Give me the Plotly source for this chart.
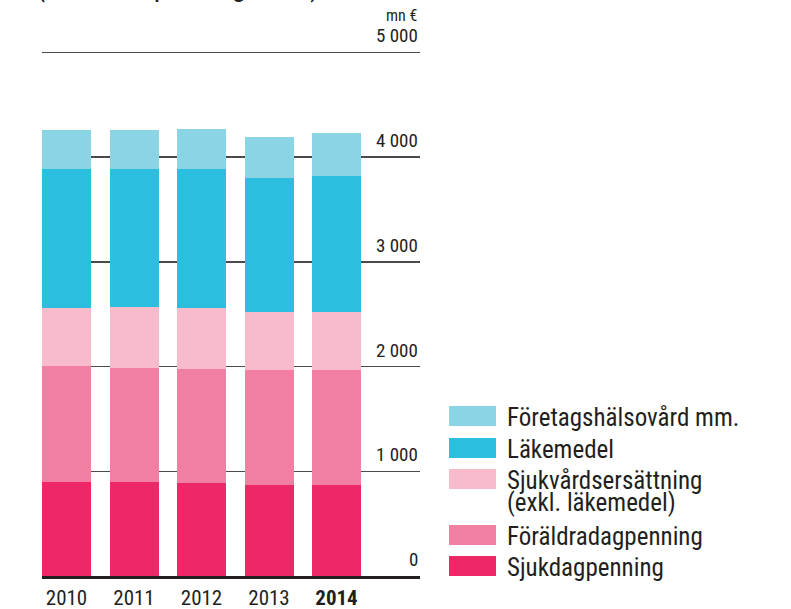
import plotly.graph_objects as go

# ---------------- data ----------------
years = ["2010", "2011", "2012", "2013", "2014"]
year_labels = ["2010", "2011", "2012", "2013", "<b>2014</b>"]

sjukdagpenning = [894, 894, 885, 866, 866]
foraldradagpenning = [1107, 1096, 1096, 1106, 1097]
sjukvardsersattning = [563, 583, 583, 554, 563]
lakemedel = [1326, 1317, 1326, 1278, 1297]
foretagshalsovard = [372, 372, 382, 392, 411]

series_names = [
    "Sjukdagpenning",
    "Föräldradagpenning",
    "Sjukvårdsersättning (exkl. läkemedel)",
    "Läkemedel",
    "Företagshälsovård mm.",
]
legend_lines = [
    ["Sjukdagpenning"],
    ["Föräldradagpenning"],
    ["Sjukvårdsersättning", "(exkl. läkemedel)"],
    ["Läkemedel"],
    ["Företagshälsovård mm."],
]
series_values = [sjukdagpenning, foraldradagpenning, sjukvardsersattning, lakemedel, foretagshalsovard]
series_colors = ["#EE2866", "#F07FA2", "#F8BBCC", "#2BBEDE", "#8AD4E4"]

ytick_vals = [0, 1000, 2000, 3000, 4000, 5000]
ytick_text = ["0", "1 000", "2 000", "3 000", "4 000", "5 000"]

title_text = "(2014 års penningvärde)"
unit_text = "mn €"

# ---------------- layout helpers ----------------
W, H = 791, 609
Y0_PX, Y5000_PX = 576, 52.5  # page pixels of value 0 and 5000
YMAX = 5100
K = (Y0_PX - Y5000_PX) / 5000.0
L, R, B = 42, 420, Y0_PX
T = Y0_PX - YMAX * K
FONT = "Liberation Sans Narrow, Arial Narrow, Roboto Condensed, DejaVu Sans Condensed, sans-serif"
TXT = "#231F20"


def px(x):
    return (x - L) / (R - L)


def py(y):
    return (B - y) / (B - T)


fig = go.Figure()
xpos = list(range(len(years)))
for name, vals, col in zip(series_names, series_values, series_colors):
    fig.add_trace(go.Bar(
        x=xpos, y=vals, name=name, marker=dict(color=col, line=dict(width=0)),
        width=0.726, showlegend=False, hoverinfo="skip",
    ))

annotations = []
for v, t in zip(ytick_vals, ytick_text):
    annotations.append(dict(
        x=1, xref="paper", y=v, yref="y", text=t, showarrow=False,
        xanchor="right", yanchor="bottom", yshift=3,
        font=dict(family=FONT, size=19, color=TXT),
    ))
annotations.append(dict(
    x=px(419), xref="paper", y=py(27), yref="paper", text=unit_text, showarrow=False,
    xanchor="right", yanchor="bottom", font=dict(family=FONT, size=16, color=TXT),
))
annotations.append(dict(
    x=px(34), xref="paper", y=py(5), yref="paper", text=title_text, showarrow=False,
    xanchor="left", yanchor="bottom", font=dict(family=FONT, size=29.5, color=TXT),
))

shapes = []
legend_rows = [(4, 416), (3, 448), (2, 479), (1, 535), (0, 566)]
for idx, cy in legend_rows:
    shapes.append(dict(
        type="rect", xref="paper", yref="paper",
        x0=px(449), x1=px(496), y0=py(cy + 10), y1=py(cy - 10),
        fillcolor=series_colors[idx], line=dict(width=0),
    ))
    for k, line in enumerate(legend_lines[idx]):
        annotations.append(dict(
            x=px(505), xref="paper", y=py(cy + 2 + 22 * k), yref="paper", text=line,
            showarrow=False, xanchor="left", yanchor="middle",
            font=dict(family=FONT, size=25, color=TXT),
        ))

fig.update_layout(
    width=W, height=H,
    margin=dict(l=L, r=W - R, t=T, b=H - B, pad=0),
    paper_bgcolor="white", plot_bgcolor="white",
    barmode="stack", bargap=0,
    showlegend=False,
    xaxis=dict(
        range=[-0.363, 5.237], tickvals=xpos, ticktext=year_labels,
        showgrid=False, zeroline=False, showline=True, linecolor="#231F20", linewidth=2.5,
        ticks="outside", ticklen=1, tickcolor="rgba(0,0,0,0)", automargin=False,
        tickfont=dict(family=FONT, size=21, color=TXT), fixedrange=True,
    ),
    yaxis=dict(
        range=[0, YMAX], tickvals=ytick_vals, showticklabels=False,
        showgrid=True, gridcolor="#4a4a4a", gridwidth=1.5, zeroline=False,
        showline=False, fixedrange=True, automargin=False,
    ),
    annotations=annotations, shapes=shapes,
)

fig.write_html(
    "out.html",
    config={"displayModeBar": False, "staticPlot": True},
    post_script="document.body.style.margin='0';",
)
